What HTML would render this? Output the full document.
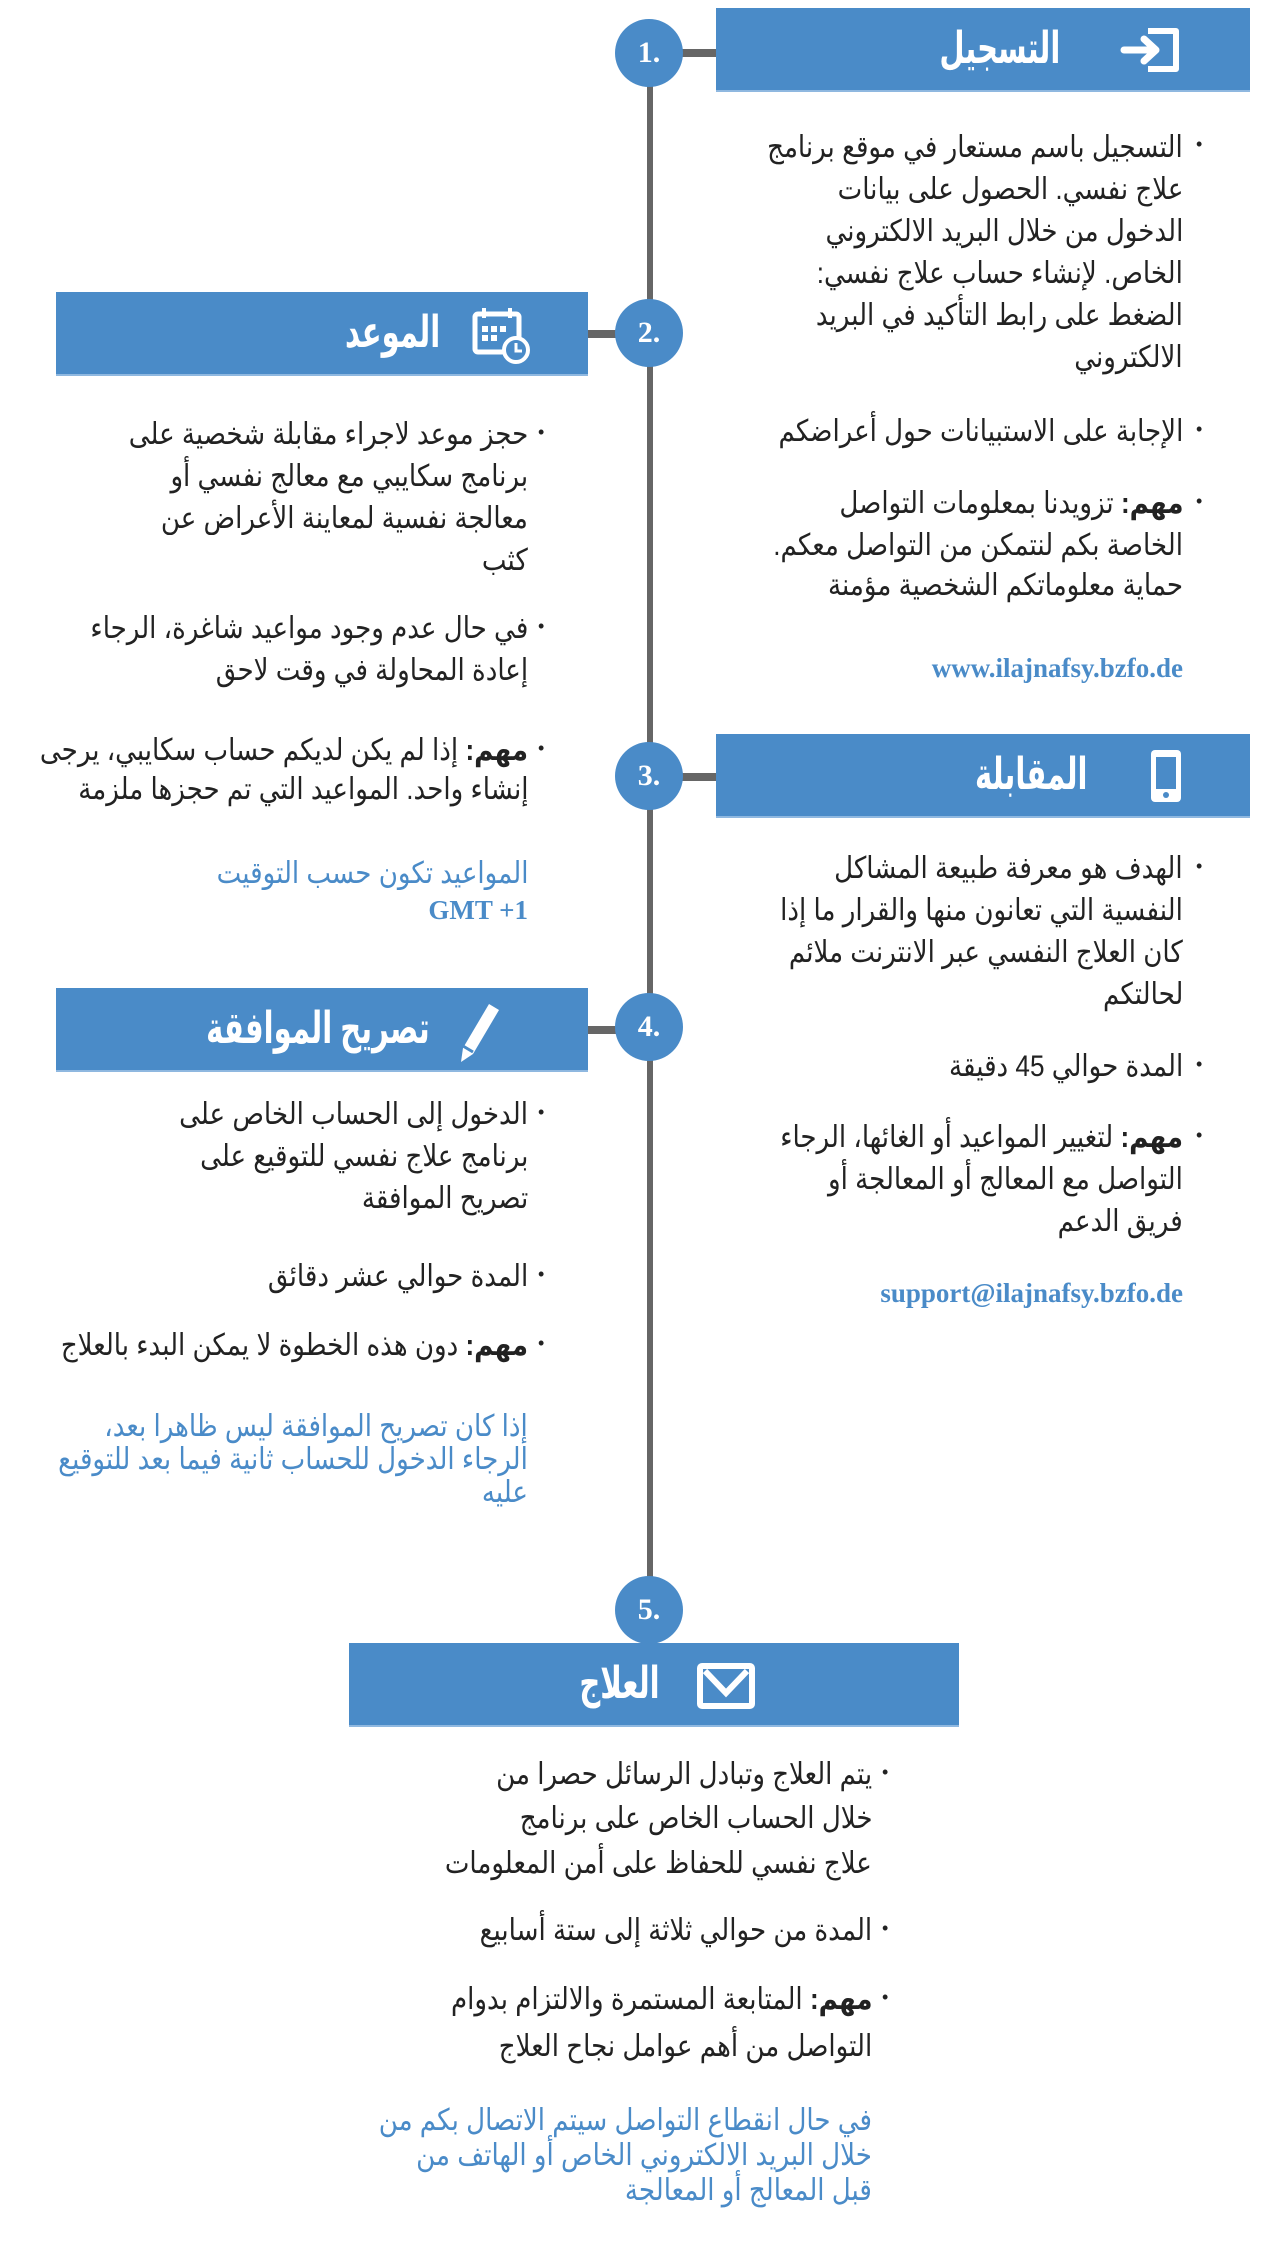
<!DOCTYPE html>
<html><head><meta charset="utf-8">
<style>
body{margin:0;width:1262px;height:2258px;background:#fff;position:relative;overflow:hidden;font-family:"Liberation Sans","DejaVu Sans",sans-serif;}
.vl{position:absolute;left:647px;width:6px;background:#666;}
.hl{position:absolute;height:8px;background:#666;}
.c{position:absolute;width:68px;height:68px;border-radius:50%;background:#4a8bc8;color:#fff;font:bold 30px "Liberation Serif",serif;display:flex;align-items:center;justify-content:center;}
.box{position:absolute;background:#4a8bc8;border-bottom:2px solid #8fb8e0;}
.t{position:absolute;color:#fff;font:bold 44px "Liberation Sans","DejaVu Sans",sans-serif;direction:rtl;white-space:nowrap;line-height:50px;transform:scaleX(0.66);transform-origin:right center;}
.l{position:absolute;direction:rtl;white-space:nowrap;font-size:30px;line-height:40px;color:#222;transform:scaleX(0.87);transform-origin:right center;}
.b{position:absolute;font-size:18px;color:#222;line-height:40px;}
.bl{color:#4a8bc8;}
.u{position:absolute;color:#4a8bc8;font:bold 27px "Liberation Serif",serif;white-space:nowrap;line-height:30px;}
</style></head><body>
<div class="vl" style="top:53px;height:1560px"></div>
<div class="hl" style="left:680px;width:40px;top:49px"></div>
<div class="hl" style="left:588px;width:40px;top:330px"></div>
<div class="hl" style="left:680px;width:40px;top:773px"></div>
<div class="hl" style="left:588px;width:40px;top:1026px"></div>

<div class="box" style="left:716px;top:8px;width:534px;height:82px"></div>
<div class="box" style="left:56px;top:292px;width:532px;height:82px"></div>
<div class="box" style="left:716px;top:734px;width:534px;height:82px"></div>
<div class="box" style="left:56px;top:988px;width:532px;height:82px"></div>
<div class="box" style="left:349px;top:1643px;width:610px;height:82px"></div>

<div class="c" style="left:615px;top:19px">1.</div>
<div class="c" style="left:615px;top:299px">2.</div>
<div class="c" style="left:615px;top:742px">3.</div>
<div class="c" style="left:615px;top:993px">4.</div>
<div class="c" style="left:615px;top:1576px">5.</div>

<!-- titles -->
<div class="t" style="right:202px;top:24px">التسجيل</div>
<svg style="position:absolute;left:1120px;top:27px" width="64" height="46" viewBox="0 0 64 46"><path d="M28 4h28v38h-28" fill="none" stroke="#fff" stroke-width="6" stroke-linejoin="round"/><path d="M4 23h30M24 12l12 11-12 11" fill="none" stroke="#fff" stroke-width="7" stroke-linecap="round" stroke-linejoin="round"/></svg>
<div class="t" style="right:822px;top:308px">الموعد</div>
<svg style="position:absolute;left:472px;top:306px" width="60" height="60" viewBox="0 0 60 60"><rect x="3" y="8" width="44" height="38" rx="3" fill="none" stroke="#fff" stroke-width="5"/><line x1="12" y1="2" x2="12" y2="12" stroke="#fff" stroke-width="4"/><line x1="38" y1="2" x2="38" y2="12" stroke="#fff" stroke-width="4"/><g fill="#fff"><rect x="10" y="20" width="6" height="6"/><rect x="19" y="20" width="6" height="6"/><rect x="28" y="20" width="6" height="6"/><rect x="10" y="29" width="6" height="6"/><rect x="19" y="29" width="6" height="6"/></g><circle cx="44" cy="44" r="12" fill="#4a8bc8" stroke="#fff" stroke-width="4"/><path d="M44 37v8h6" fill="none" stroke="#fff" stroke-width="3"/></svg>
<div class="t" style="right:175px;top:750px">المقابلة</div>
<svg style="position:absolute;left:1149px;top:748px" width="34" height="56" viewBox="0 0 34 56"><rect x="2" y="2" width="30" height="52" rx="4" fill="#fff"/><rect x="7" y="9" width="20" height="32" fill="#4a8bc8"/><circle cx="17" cy="47" r="3" fill="#4a8bc8"/></svg>
<div class="t" style="right:832px;top:1004px">تصريح الموافقة</div>
<svg style="position:absolute;left:455px;top:1000px" width="48" height="64" viewBox="0 0 48 64"><path d="M34 4l10 6-26 44-12 8 2-14z" fill="#fff"/><path d="M8 46l10 6" stroke="#4a8bc8" stroke-width="3"/></svg>
<div class="t" style="right:602px;top:1659px">العلاج</div>
<svg style="position:absolute;left:697px;top:1663px" width="58" height="46" viewBox="0 0 58 46"><rect x="3" y="3" width="52" height="40" rx="2" fill="none" stroke="#fff" stroke-width="6"/><path d="M8 8l21 22 21-22" fill="none" stroke="#fff" stroke-width="6"/></svg>

<!-- column 1 right -->
<div class="b" style="left:1196px;top:124px">•</div>
<div class="l" style="right:79px;top:128px">التسجيل باسم مستعار في موقع برنامج</div>
<div class="l" style="right:79px;top:170px">علاج نفسي. الحصول على بيانات</div>
<div class="l" style="right:79px;top:212px">الدخول من خلال البريد الالكتروني</div>
<div class="l" style="right:79px;top:254px">الخاص. لإنشاء حساب علاج نفسي:</div>
<div class="l" style="right:79px;top:296px">الضغط على رابط التأكيد في البريد</div>
<div class="l" style="right:79px;top:338px">الالكتروني</div>
<div class="b" style="left:1196px;top:409px">•</div>
<div class="l" style="right:79px;top:412px">الإجابة على الاستبيانات حول أعراضكم</div>
<div class="b" style="left:1196px;top:481px">•</div>
<div class="l" style="right:79px;top:484px"><b>مهم:</b> تزويدنا بمعلومات التواصل</div>
<div class="l" style="right:79px;top:526px">الخاصة بكم لنتمكن من التواصل معكم.</div>
<div class="l" style="right:79px;top:566px">حماية معلوماتكم الشخصية مؤمنة</div>
<div class="u" style="right:79px;top:653px">www.ilajnafsy.bzfo.de</div>

<!-- column 2 left -->
<div class="b" style="left:538px;top:412px">•</div>
<div class="l" style="right:734px;top:415px">حجز موعد لاجراء مقابلة شخصية على</div>
<div class="l" style="right:734px;top:457px">برنامج سكايبي مع معالج نفسي أو</div>
<div class="l" style="right:734px;top:499px">معالجة نفسية لمعاينة الأعراض عن</div>
<div class="l" style="right:734px;top:541px">كثب</div>
<div class="b" style="left:538px;top:606px">•</div>
<div class="l" style="right:734px;top:609px">في حال عدم وجود مواعيد شاغرة، الرجاء</div>
<div class="l" style="right:734px;top:651px">إعادة المحاولة في وقت لاحق</div>
<div class="b" style="left:538px;top:728px">•</div>
<div class="l" style="right:734px;top:731px"><b>مهم:</b> إذا لم يكن لديكم حساب سكايبي، يرجى</div>
<div class="l" style="right:734px;top:770px">إنشاء واحد. المواعيد التي تم حجزها ملزمة</div>
<div class="l bl" style="right:734px;top:854px">المواعيد تكون حسب التوقيت</div>
<div class="u" style="right:734px;top:895px">GMT +1</div>

<!-- column 3 right -->
<div class="b" style="left:1196px;top:846px">•</div>
<div class="l" style="right:79px;top:849px">الهدف هو معرفة طبيعة المشاكل</div>
<div class="l" style="right:79px;top:891px">النفسية التي تعانون منها والقرار ما إذا</div>
<div class="l" style="right:79px;top:933px">كان العلاج النفسي عبر الانترنت ملائم</div>
<div class="l" style="right:79px;top:975px">لحالتكم</div>
<div class="b" style="left:1196px;top:1044px">•</div>
<div class="l" style="right:79px;top:1047px">المدة حوالي 45 دقيقة</div>
<div class="b" style="left:1196px;top:1115px">•</div>
<div class="l" style="right:79px;top:1118px"><b>مهم:</b> لتغيير المواعيد أو الغائها، الرجاء</div>
<div class="l" style="right:79px;top:1160px">التواصل مع المعالج أو المعالجة أو</div>
<div class="l" style="right:79px;top:1202px">فريق الدعم</div>
<div class="u" style="right:79px;top:1278px">support@ilajnafsy.bzfo.de</div>

<!-- column 4 left -->
<div class="b" style="left:538px;top:1092px">•</div>
<div class="l" style="right:734px;top:1095px">الدخول إلى الحساب الخاص على</div>
<div class="l" style="right:734px;top:1137px">برنامج علاج نفسي للتوقيع على</div>
<div class="l" style="right:734px;top:1179px">تصريح الموافقة</div>
<div class="b" style="left:538px;top:1254px">•</div>
<div class="l" style="right:734px;top:1257px">المدة حوالي عشر دقائق</div>
<div class="b" style="left:538px;top:1323px">•</div>
<div class="l" style="right:734px;top:1326px"><b>مهم:</b> دون هذه الخطوة لا يمكن البدء بالعلاج</div>
<div class="l bl" style="right:734px;top:1410px;line-height:34px">إذا كان تصريح الموافقة ليس ظاهرا بعد،</div>
<div class="l bl" style="right:734px;top:1443px;line-height:34px">الرجاء الدخول للحساب ثانية فيما بعد للتوقيع</div>
<div class="l bl" style="right:734px;top:1476px;line-height:34px">عليه</div>

<!-- column 5 -->
<div class="b" style="left:882px;top:1752px">•</div>
<div class="l" style="right:390px;top:1755px">يتم العلاج وتبادل الرسائل حصرا من</div>
<div class="l" style="right:390px;top:1799px">خلال الحساب الخاص على برنامج</div>
<div class="l" style="right:390px;top:1844px">علاج نفسي للحفاظ على أمن المعلومات</div>
<div class="b" style="left:882px;top:1908px">•</div>
<div class="l" style="right:390px;top:1911px">المدة من حوالي ثلاثة إلى ستة أسابيع</div>
<div class="b" style="left:882px;top:1977px">•</div>
<div class="l" style="right:390px;top:1980px"><b>مهم:</b> المتابعة المستمرة والالتزام بدوام</div>
<div class="l" style="right:390px;top:2027px">التواصل من أهم عوامل نجاح العلاج</div>
<div class="l bl" style="right:390px;top:2103px;line-height:35px">في حال انقطاع التواصل سيتم الاتصال بكم من</div>
<div class="l bl" style="right:390px;top:2138px;line-height:35px">خلال البريد الالكتروني الخاص أو الهاتف من</div>
<div class="l bl" style="right:390px;top:2173px;line-height:35px">قبل المعالج أو المعالجة</div>
</body></html>
